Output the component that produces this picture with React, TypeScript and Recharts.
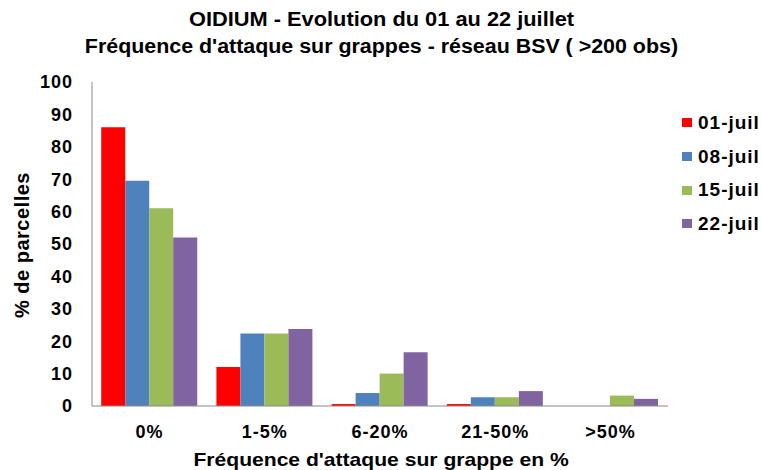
import { BarChart, Bar, XAxis, YAxis } from "recharts";

const categories = ["0%", "1-5%", "6-20%", "21-50%", ">50%"];
const seriesNames = ["01-juil", "08-juil", "15-juil", "22-juil"];
const juil01 = [86, 12, 0.6, 0.6, 0];
const juil08 = [69.5, 22.4, 4, 2.7, 0];
const juil15 = [61, 22.4, 10, 2.7, 3.2];
const juil22 = [52, 23.8, 16.6, 4.6, 2.2];
const yTicks = [0, 10, 20, 30, 40, 50, 60, 70, 80, 90, 100];

const colors = ["#FF0000", "#4F81BD", "#9BBB59", "#8064A2"];
const font = "'Liberation Sans', Arial, sans-serif";

const data = categories.map((c, i) => ({
  cat: c,
  s0: juil01[i],
  s1: juil08[i],
  s2: juil15[i],
  s3: juil22[i],
}));

const LegendBox = () => (
  <div
    style={{
      position: "absolute",
      left: 682,
      top: 106,
      fontFamily: font,
      fontWeight: "bold",
      fontSize: 19,
      letterSpacing: 1,
    }}
  >
    {seriesNames.map((n, i) => (
      <div
        key={n}
        style={{ display: "flex", alignItems: "center", height: 33.7 }}
      >
        <span
          style={{
            width: 10,
            height: 9,
            background: colors[i],
            marginRight: 6,
            display: "inline-block",
          }}
        />
        <span style={{ color: "#000", whiteSpace: "nowrap" }}>{n}</span>
      </div>
    ))}
  </div>
);

const titleLine = (scale: number) => ({
  transform: `scaleX(${scale})`,
  transformOrigin: "375px 0",
});

const App = () => {
  return (
    <div
      style={{
        position: "absolute",
        left: 0,
        top: 0,
        width: 762,
        height: 470,
        background: "#fff",
        overflow: "hidden",
      }}
    >
      <div
        style={{
          position: "absolute",
          top: 6,
          width: 762,
          textAlign: "center",
          fontFamily: font,
          fontWeight: "bold",
          fontSize: 20,
          lineHeight: "27px",
          color: "#000",
          whiteSpace: "nowrap",
        }}
      >
        <div style={titleLine(1.09)}>OIDIUM - Evolution du 01 au 22 juillet</div>
        <div style={titleLine(1.07)}>
          Fréquence d'attaque sur grappes - réseau BSV ( &gt;200 obs)
        </div>
      </div>
      <div style={{ position: "absolute", left: 0, top: 0 }}>
        <BarChart
          width={762}
          height={470}
          data={data}
          margin={{ top: 82, right: 94, left: 0, bottom: 34 }}
          barCategoryGap="8%"
          barGap={0}
        >
          <XAxis
            dataKey="cat"
            tickLine={false}
            tickMargin={13}
            stroke="#888"
            tick={{
              fill: "#000",
              fontFamily: font,
              fontWeight: "bold",
              fontSize: 18,
              letterSpacing: 1,
            }}
          />
          <YAxis
            width={92}
            domain={[0, 100]}
            ticks={yTicks}
            interval={0}
            tickLine={false}
            tickMargin={13}
            stroke="#888"
            tick={{
              fill: "#000",
              fontFamily: font,
              fontWeight: "bold",
              fontSize: 18,
              letterSpacing: 1,
            }}
          />
          {["s0", "s1", "s2", "s3"].map((k, i) => (
            <Bar
              key={k}
              dataKey={k}
              name={seriesNames[i]}
              fill={colors[i]}
              isAnimationActive={false}
            />
          ))}
        </BarChart>
      </div>
      <LegendBox />
      <div
        style={{
          position: "absolute",
          top: 449,
          left: 0,
          width: 762,
          textAlign: "center",
          fontFamily: font,
          fontWeight: "bold",
          fontSize: 19,
          color: "#000",
          transform: "scaleX(1.11)",
          transformOrigin: "380px 0",
          whiteSpace: "nowrap",
        }}
      >
        Fréquence d'attaque sur grappe en %
      </div>
      <div
        style={{
          position: "absolute",
          left: 22,
          top: 245,
          transform: "translate(-50%, -50%) rotate(-90deg)",
          whiteSpace: "nowrap",
          fontFamily: font,
          fontWeight: "bold",
          fontSize: 20,
          letterSpacing: 0.5,
          color: "#000",
        }}
      >
        % de parcelles
      </div>
    </div>
  );
};

export default App;
